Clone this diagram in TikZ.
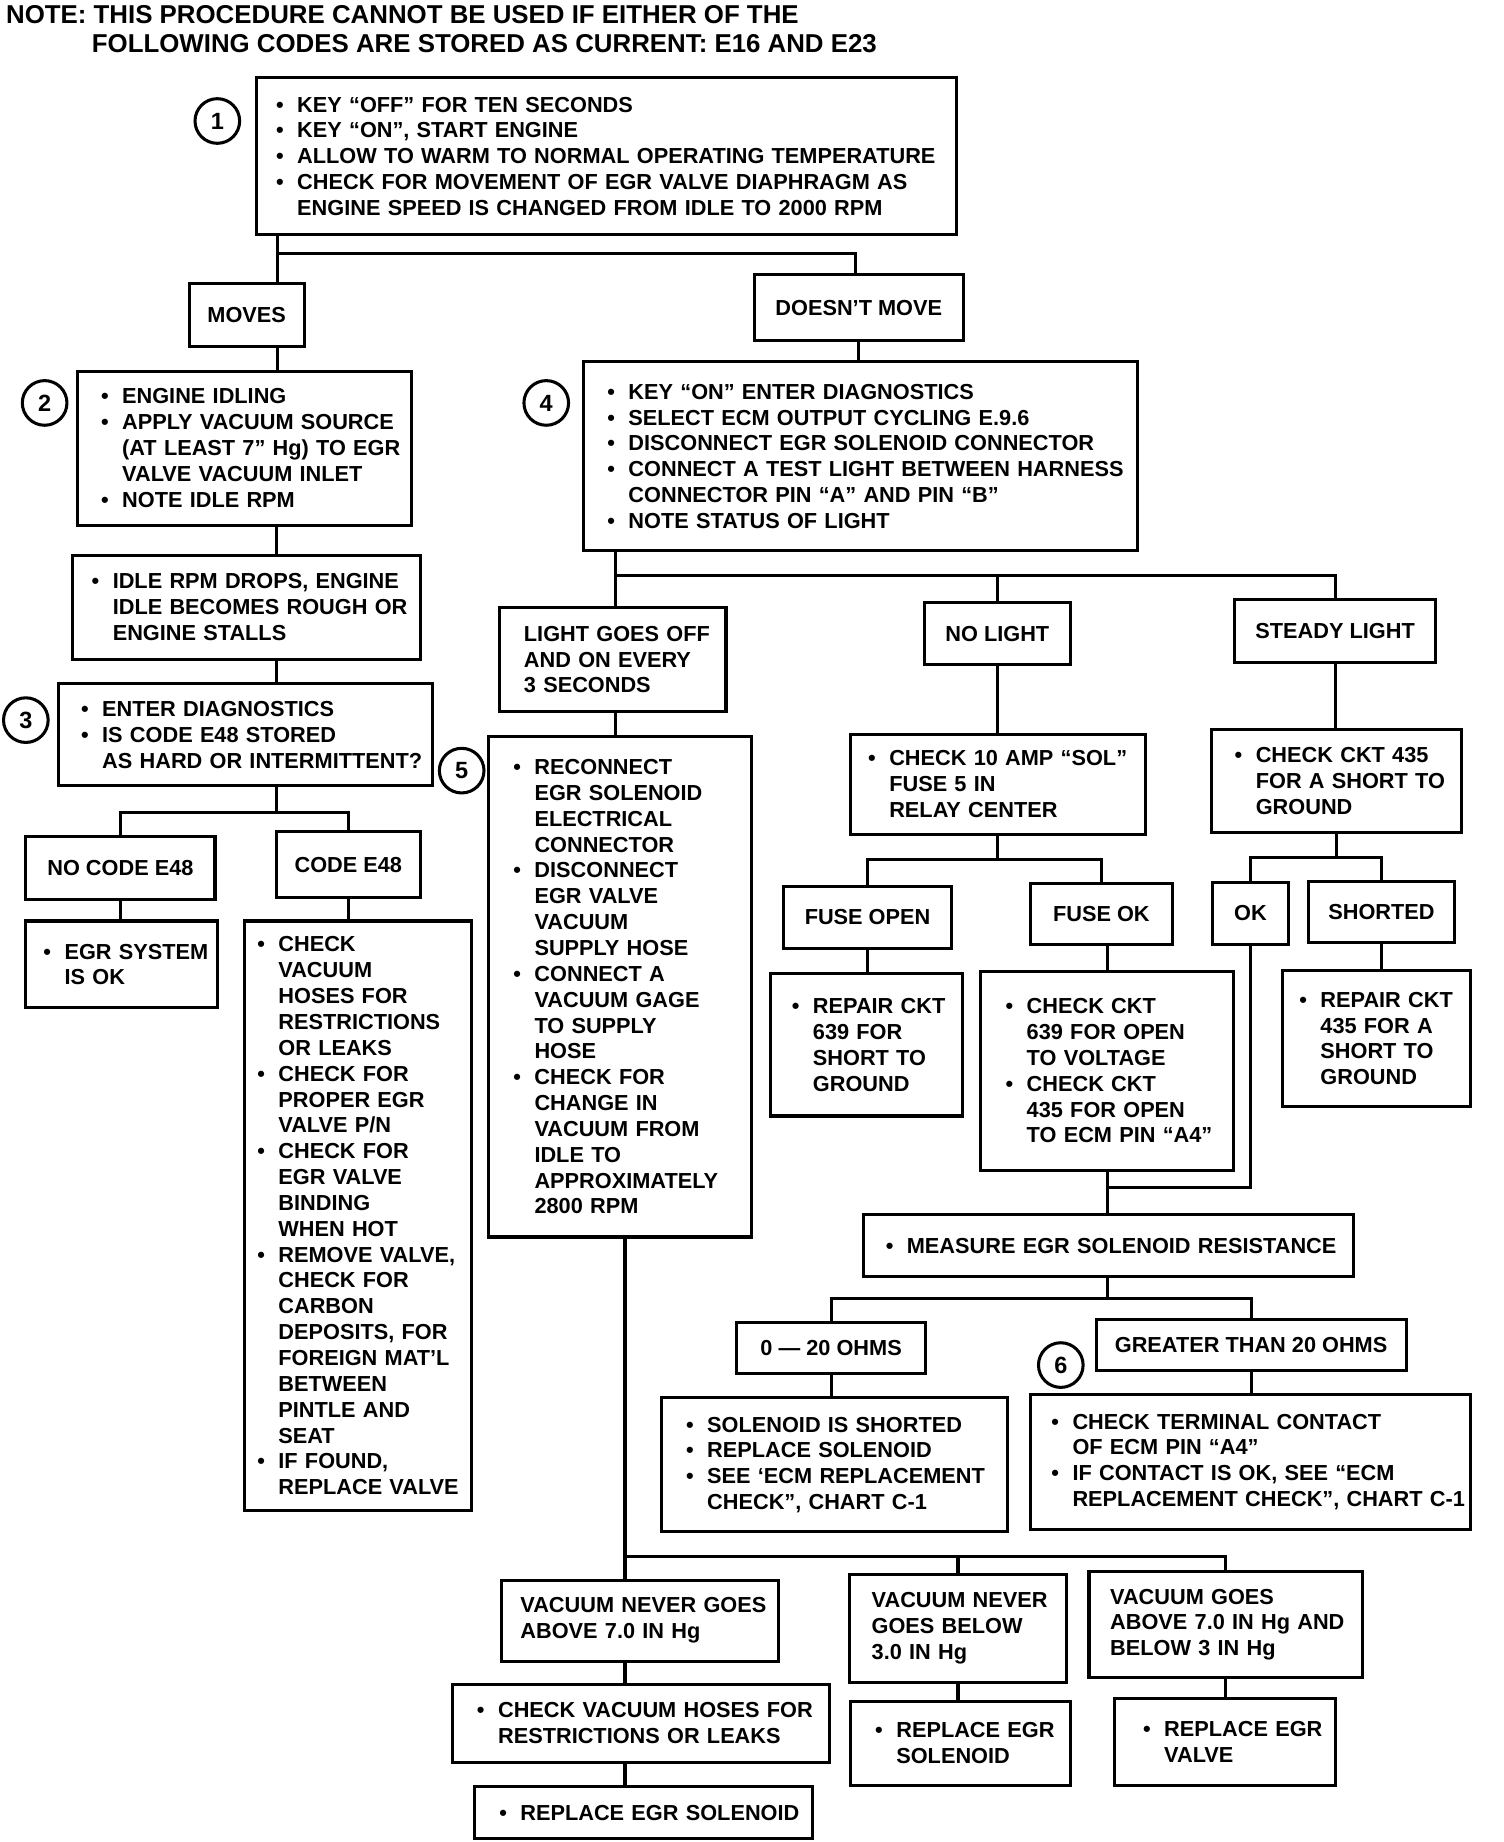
\documentclass[tikz,border=0pt]{standalone}
\usepackage{fontspec}
\setmainfont{Liberation Sans}
\newcommand\xbul[1]{\mbox{\makebox[18pt][l]{\textbullet}#1}}
\newcommand\xind[1]{\mbox{\hspace*{18pt}#1}}
\newcommand\xpl[1]{\mbox{#1}}
\tikzset{
  box/.style={draw, line width=2.6pt, inner sep=0pt, outer sep=0pt,
    font=\fontsize{18.5}{22}\selectfont\bfseries},
  circ/.style={draw, circle, line width=2.6pt, minimum size=38pt, inner sep=0pt,
    font=\fontsize{20}{20}\selectfont\bfseries},
  conn/.style={line width=2.6pt},
  ttl/.style={anchor=base west, inner sep=0pt, font=\fontsize{22}{26}\selectfont\bfseries}
}
\newcommand\tbx[7]{%
  \pgfmathsetmacro\bxw{#4-#2}\pgfmathsetmacro\bxh{#5-#3}\pgfmathsetmacro\bxt{#4-#2-2*#6}%
  \node[box, align=left, anchor=north west, minimum width=\bxw pt, minimum height=\bxh pt,
    text width=\bxt pt] (#1) at (#2,#3) {#7};}
\newcommand\cbx[6]{%
  \pgfmathsetmacro\bxw{#4-#2}\pgfmathsetmacro\bxh{#5-#3}%
  \node[box, align=center, anchor=north west, minimum width=\bxw pt, minimum height=\bxh pt]
    (#1) at (#2,#3) {#6};}
\begin{document}
\begin{tikzpicture}[x=1pt,y=-1pt]
\fill[white] (0,0) rectangle (1280,1568);
\useasboundingbox (0,0) rectangle (1280,1568);

% title
\node[ttl] (note1) at (5,20) {NOTE: THIS PROCEDURE CANNOT BE USED IF EITHER OF THE};
\node[ttl] (note2) at (78,45) {FOLLOWING CODES ARE STORED AS CURRENT: E16 AND E23};

% numbered circles
\node[circ] (n1) at (185,103) {1};
\node[circ] (n2) at (38,343) {2};
\node[circ] (n3) at (22,613) {3};
\node[circ] (n4) at (465,343) {4};
\node[circ] (n5) at (393,656) {5};
\node[circ] (n6) at (903,1162) {6};

% boxes
\tbx{b1}{218}{66}{814}{200}{17}{\xbul{KEY ``OFF'' FOR TEN SECONDS}\\
 \xbul{KEY ``ON'', START ENGINE}\\
 \xbul{ALLOW TO WARM TO NORMAL OPERATING TEMPERATURE}\\
 \xbul{CHECK FOR MOVEMENT OF EGR VALVE DIAPHRAGM AS}\\
 \xind{ENGINE SPEED IS CHANGED FROM IDLE TO 2000 RPM}}
\cbx{moves}{161}{241}{259}{295}{MOVES}
\cbx{dm}{642}{234}{820}{290}{DOESN'T MOVE}
\tbx{b2}{66}{316}{350}{447}{20}{\xbul{ENGINE IDLING}\\
 \xbul{APPLY VACUUM SOURCE}\\
 \xind{(AT LEAST 7'' Hg) TO EGR}\\
 \xind{VALVE VACUUM INLET}\\
 \xbul{NOTE IDLE RPM}}
\tbx{idle}{62}{473}{358}{561}{16}{\xbul{IDLE RPM DROPS, ENGINE}\\
 \xind{IDLE BECOMES ROUGH OR}\\
 \xind{ENGINE STALLS}}
\tbx{b3}{50}{582}{368}{669}{19}{\xbul{ENTER DIAGNOSTICS}\\
 \xbul{IS CODE E48 STORED}\\
 \xind{AS HARD OR INTERMITTENT?}}
\cbx{nocode}{22}{712}{183}{766}{NO CODE E48}
\cbx{code}{235}{708}{358}{764}{CODE E48}
\tbx{egrok}{22}{784}{185}{858}{15}{\xbul{EGR SYSTEM}\\
 \xind{IS OK}}
\tbx{big}{208}{784}{401}{1286}{11}{\xbul{CHECK}\\
 \xind{VACUUM}\\
 \xind{HOSES FOR}\\
 \xind{RESTRICTIONS}\\
 \xind{OR LEAKS}\\
 \xbul{CHECK FOR}\\
 \xind{PROPER EGR}\\
 \xind{VALVE P/N}\\
 \xbul{CHECK FOR}\\
 \xind{EGR VALVE}\\
 \xind{BINDING}\\
 \xind{WHEN HOT}\\
 \xbul{REMOVE VALVE,}\\
 \xind{CHECK FOR}\\
 \xind{CARBON}\\
 \xind{DEPOSITS, FOR}\\
 \xind{FOREIGN MAT'L}\\
 \xind{BETWEEN}\\
 \xind{PINTLE AND}\\
 \xind{SEAT}\\
 \xbul{IF FOUND,}\\
 \xind{REPLACE VALVE}}
\tbx{b4}{497}{308}{968}{469}{20}{\xbul{KEY ``ON'' ENTER DIAGNOSTICS}\\
 \xbul{SELECT ECM OUTPUT CYCLING E.9.6}\\
 \xbul{DISCONNECT EGR SOLENOID CONNECTOR}\\
 \xbul{CONNECT A TEST LIGHT BETWEEN HARNESS}\\
 \xind{CONNECTOR PIN ``A'' AND PIN ``B''}\\
 \xbul{NOTE STATUS OF LIGHT}}
\tbx{lgo}{425}{517}{618}{606}{21}{\xpl{LIGHT GOES OFF}\\
 \xpl{AND ON EVERY}\\
 \xpl{3 SECONDS}}
\cbx{nolight}{787}{513}{911}{566}{NO LIGHT}
\cbx{steady}{1051}{510}{1222}{564}{STEADY LIGHT}
\tbx{b5}{416}{627}{640}{1053}{21}{\xbul{RECONNECT}\\
 \xind{EGR SOLENOID}\\
 \xind{ELECTRICAL}\\
 \xind{CONNECTOR}\\
 \xbul{DISCONNECT}\\
 \xind{EGR VALVE}\\
 \xind{VACUUM}\\
 \xind{SUPPLY HOSE}\\
 \xbul{CONNECT A}\\
 \xind{VACUUM GAGE}\\
 \xind{TO SUPPLY}\\
 \xind{HOSE}\\
 \xbul{CHECK FOR}\\
 \xind{CHANGE IN}\\
 \xind{VACUUM FROM}\\
 \xind{IDLE TO}\\
 \xind{APPROXIMATELY}\\
 \xind{2800 RPM}}
\tbx{c10}{724}{625}{975}{710}{15}{\xbul{CHECK 10 AMP ``SOL''}\\
 \xind{FUSE 5 IN}\\
 \xind{RELAY CENTER}}
\tbx{c435}{1031}{621}{1244}{709}{20}{\xbul{CHECK CKT 435}\\
 \xind{FOR A SHORT TO}\\
 \xind{GROUND}}
\cbx{fopen}{667}{755}{810}{807}{FUSE OPEN}
\cbx{fok}{877}{752}{998}{804}{FUSE OK}
\cbx{ok}{1032}{751}{1097}{804}{OK}
\cbx{shorted}{1114}{750}{1238}{802}{SHORTED}
\tbx{r639}{656}{829}{819}{950}{18}{\xbul{REPAIR CKT}\\
 \xind{639 FOR}\\
 \xind{SHORT TO}\\
 \xind{GROUND}}
\tbx{c639}{835}{827}{1050}{996}{21}{\xbul{CHECK CKT}\\
 \xind{639 FOR OPEN}\\
 \xind{TO VOLTAGE}\\
 \xbul{CHECK CKT}\\
 \xind{435 FOR OPEN}\\
 \xind{TO ECM PIN ``A4''}}
\tbx{r435}{1092}{826}{1252}{942}{14}{\xbul{REPAIR CKT}\\
 \xind{435 FOR A}\\
 \xind{SHORT TO}\\
 \xind{GROUND}}
\tbx{measure}{735}{1034}{1152}{1087}{19}{\xbul{MEASURE EGR SOLENOID RESISTANCE}}
\cbx{ohms0}{627}{1126}{788}{1169}{0 — 20 OHMS}
\cbx{greater}{933}{1123}{1197}{1167}{GREATER THAN 20 OHMS}
\tbx{solsh}{563}{1190}{858}{1304}{21}{\xbul{SOLENOID IS SHORTED}\\
 \xbul{REPLACE SOLENOID}\\
 \xbul{SEE `ECM REPLACEMENT}\\
 \xind{CHECK'', CHART C-1}}
\tbx{term}{877}{1187}{1252}{1302}{18}{\xbul{CHECK TERMINAL CONTACT}\\
 \xind{OF ECM PIN ``A4''}\\
 \xbul{IF CONTACT IS OK, SEE ``ECM}\\
 \xind{REPLACEMENT CHECK'', CHART C-1}}
\tbx{vabove}{427}{1345}{663}{1414}{16}{\xpl{VACUUM NEVER GOES}\\
 \xpl{ABOVE 7.0 IN Hg}}
\tbx{chk}{385}{1434}{706}{1500}{21}{\xbul{CHECK VACUUM HOSES FOR}\\
 \xind{RESTRICTIONS OR LEAKS}}
\tbx{rsol}{404}{1521}{692}{1565}{21}{\xbul{REPLACE EGR SOLENOID}}
\tbx{vbelow}{723}{1340}{908}{1432}{19}{\xpl{VACUUM NEVER}\\
 \xpl{GOES BELOW}\\
 \xpl{3.0 IN Hg}}
\tbx{rsol2}{724}{1448}{911}{1520}{21}{\xbul{REPLACE EGR}\\
 \xind{SOLENOID}}
\tbx{vgoes}{927}{1338}{1160}{1428}{18}{\xpl{VACUUM GOES}\\
 \xpl{ABOVE 7.0 IN Hg AND}\\
 \xpl{BELOW 3 IN Hg}}
\tbx{rvalve}{949}{1446}{1137}{1520}{24}{\xbul{REPLACE EGR}\\
 \xind{VALVE}}

% junction coordinates
\coordinate (j1) at (236,216);
\coordinate (j1r) at (728,216);
\coordinate (colA) at (235,0);
\coordinate (j3) at (235,692);
\coordinate (j4) at (524,490);
\coordinate (j10) at (850,732);
\coordinate (j435) at (1138,730);
\coordinate (jm) at (942.5,1011);
\coordinate (jr) at (943,1105);
\coordinate (jv) at (532,1325);

% connectors
\draw[conn] (b1.south -| j1) -- (moves.north -| j1);
\draw[conn] (j1) -- (j1r) -- (dm.north -| j1r);
\draw[conn] (moves.south -| j1) -- (b2.north -| j1);
\draw[conn] (b2.south -| colA) -- (idle.north -| colA);
\draw[conn] (idle.south -| colA) -- (b3.north -| colA);
\draw[conn] (b3.south -| colA) -- (j3);
\draw[conn] (nocode.north) |- (j3) -| (code.north);
\draw[conn] (nocode.south) -- (nocode.south |- egrok.north);
\draw[conn] (code.south) -- (code.south |- big.north);
\draw[conn] (dm.south) -- (dm.south |- b4.north);
\draw[conn] (b4.south -| j4) -- (lgo.north -| j4);
\draw[conn] (j4) -| (steady.north);
\draw[conn] (nolight.north) -- (nolight.north |- j4);
\draw[conn] (lgo.south -| j4) -- (b5.north -| j4);
\draw[conn] (nolight.south) -- (nolight.south |- c10.north);
\draw[conn] (steady.south) -- (steady.south |- c435.north);
\draw[conn] (c10.south) -- (c10.south |- j10);
\draw[conn] (fopen.north) |- (j10) -| (fok.north);
\draw[conn] (c435.south) -- (c435.south |- j435);
\draw[conn] (ok.north) |- (j435) -| (shorted.north);
\draw[conn] (fopen.south) -- (fopen.south |- r639.north);
\draw[conn] (c639.north |- fok.south) -- (c639.north);
\draw[conn] (shorted.south) -- (shorted.south |- r435.north);
\draw[conn] (c639.south) -- (c639.south |- measure.north);
\draw[conn] (ok.south) |- (jm);
\draw[conn] (measure.south -| jr) -- (jr);
\draw[conn] (ohms0.north) |- (jr) -| (greater.north);
\draw[conn] (ohms0.south) -- (ohms0.south |- solsh.north);
\draw[conn] (greater.south) -- (greater.south |- term.north);
\draw[conn] (b5.south -| jv) -- (vabove.north -| jv);
\draw[conn] (jv) -| (vgoes.north);
\draw[conn] (vbelow.north) -- (vbelow.north |- jv);
\draw[conn] (vabove.south -| jv) -- (chk.north -| jv);
\draw[conn] (chk.south -| jv) -- (rsol.north -| jv);
\draw[conn] (vbelow.south) -- (vbelow.south |- rsol2.north);
\draw[conn] (vgoes.south) -- (vgoes.south |- rvalve.north);
\end{tikzpicture}
\end{document}
